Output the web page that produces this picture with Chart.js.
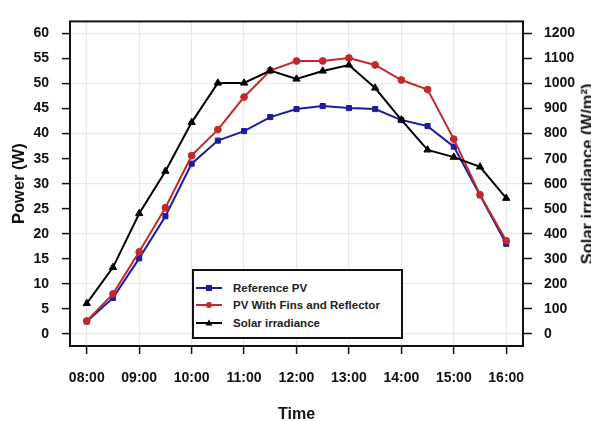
<!DOCTYPE html>
<html>
<head>
<meta charset="utf-8">
<script src="https://cdn.jsdelivr.net/npm/chart.js@4/dist/chart.umd.min.js"></script>
<style>
  html, body { margin: 0; padding: 0; background: #fff; overflow: hidden; }
  #wrap { position: relative; width: 591px; height: 421px; }
  #chart { position: absolute; left: 0; top: 0; }
  .legend {
    position: absolute; left: 192px; top: 269px; width: 211px; height: 70px;
    box-sizing: border-box; border: 2px solid #111; background: #fff;
    padding: 8px 0 0 2px;
    font: 700 11.5px "Liberation Sans", Arial, sans-serif; color: #222;
  }
  .legend .row { height: 17.5px; display: flex; align-items: center; }
  .legend svg { margin-right: 11px; }
  .y2title {
    position: absolute; left: 587px; top: 174px; white-space: nowrap;
    transform: translate(-50%, -50%) rotate(-90deg);
    font: 700 16.5px/1 "Liberation Sans", Arial, sans-serif; color: #111;
  }
</style>
</head>
<body>
<div id="wrap">
  <canvas id="chart" width="591" height="421"></canvas>
  <div class="legend" id="legend"></div>
  <div class="y2title">Solar irradiance (W/m²)</div>
</div>
<script>
// Half-hourly readings
const TIMES = ['08:00', '08:30', '09:00', '09:30', '10:00', '10:30', '11:00', '11:30', '12:00',
               '12:30', '13:00', '13:30', '14:00', '14:30', '15:00', '15:30', '16:00'];
const REFERENCE_PV = [2.5, 7.2, 15.1, 23.5, 34.0, 38.6, 40.5, 43.3, 44.9,
                      45.5, 45.1, 44.9, 42.7, 41.5, 37.4, 27.7, 18.0];
const FINS_REFLECTOR_PV = [2.6, 8.0, 16.4, 25.2, 35.6, 40.8, 47.3, 52.6, 54.5,
                           54.5, 55.1, 53.7, 50.7, 48.8, 38.9, 27.8, 18.6];
const IRRADIANCE = [122, 266, 481, 650, 845, 1002, 1002, 1052, 1018,
                    1050, 1074, 982, 855, 735, 706, 667, 542];

// Axis ticks
const HOUR_TICKS = ['08:00', '09:00', '10:00', '11:00', '12:00', '13:00', '14:00', '15:00', '16:00'];
const POWER_TICKS = [0, 5, 10, 15, 20, 25, 30, 35, 40, 45, 50, 55, 60];
const IRRADIANCE_TICKS = [0, 100, 200, 300, 400, 500, 600, 700, 800, 900, 1000, 1100, 1200];

const toHours = (t) => {
    const [h, m] = t.split(':').map(Number);
    return h + m / 60;
};
const fmtHour = (v) => String(Math.floor(v)).padStart(2, '0') + ':' + String(Math.round((v % 1) * 60)).padStart(2, '0');

const FONT = "'Liberation Sans', Arial, sans-serif";
const BLUE = '#1c1c9c';
const RED = '#c0292d';
const BLACK = '#000000';

const series = [
    { label: 'Reference PV', data: REFERENCE_PV, color: BLUE, style: 'rect', radius: 3.6, axis: 'y', order: 3 },
    { label: 'PV With Fins and Reflector', data: FINS_REFLECTOR_PV, color: RED, style: 'circle', radius: 3.4, axis: 'y', order: 2 },
    { label: 'Solar irradiance', data: IRRADIANCE, color: BLACK, style: 'triangle', radius: 4.2, axis: 'y2', order: 1 }
];

// Box round the plot area
const frame = {
    id: 'frame',
    afterDatasetsDraw(chart) {
        const { ctx, chartArea: a } = chart;
        ctx.save();
        ctx.strokeStyle = '#111';
        ctx.lineWidth = 2;
        ctx.strokeRect(a.left, a.top, a.right - a.left, a.bottom - a.top);
        ctx.restore();
    }
};

const tickFont = { family: FONT, size: 14, weight: 'bold' };
const titleFont = { family: FONT, size: 16.5, weight: 'bold', lineHeight: 1 };

new Chart(document.getElementById('chart'), {
    type: 'line',
    data: {
        datasets: series.map(s => ({
            label: s.label,
            data: s.data.map((v, i) => ({ x: toHours(TIMES[i]), y: v })),
            borderColor: s.color,
            backgroundColor: s.color,
            pointBackgroundColor: s.color,
            pointBorderColor: s.color,
            pointStyle: s.style,
            pointRadius: s.radius,
            pointBorderWidth: 1,
            borderWidth: 2,
            tension: 0,
            yAxisID: s.axis,
            order: s.order,
            clip: false
        }))
    },
    options: {
        responsive: false,
        animation: false,
        layout: { padding: { top: 13, left: 0, right: 0, bottom: 0 } },
        plugins: { legend: { display: false }, tooltip: { enabled: false } },
        scales: {
            x: {
                type: 'linear',
                min: 7.68,
                max: 16.32,
                afterBuildTicks: (scale) => { scale.ticks = HOUR_TICKS.map(t => ({ value: toHours(t) })); },
                afterFit: (scale) => { scale.height = 75; },
                grid: { color: '#e9e9e9', lineWidth: 1.2, tickColor: '#111', tickWidth: 1.5, tickLength: 8 },
                border: { display: false },
                ticks: { color: '#111', font: tickFont, padding: 16, maxRotation: 0, callback: (v) => fmtHour(v) },
                title: { display: true, text: 'Time', color: '#111', font: { family: FONT, size: 16, weight: 'bold', lineHeight: 0.8 }, padding: { top: 0, bottom: 0 } }
            },
            y: {
                position: 'left',
                min: -2.4,
                max: 62.4,
                afterBuildTicks: (scale) => { scale.ticks = POWER_TICKS.map(v => ({ value: v })); },
                afterFit: (scale) => { scale.width = 70; },
                grid: {
                    color: (c) => (c.tick && c.tick.value % 10 === 0) ? '#e9e9e9' : 'rgba(0,0,0,0)',
                    lineWidth: 1.2, tickColor: '#111', tickWidth: 1.5, tickLength: 8
                },
                border: { display: false },
                ticks: { color: '#111', font: tickFont, padding: 13, callback: (v) => String(v) },
                title: { display: true, text: 'Power (W)', color: '#111', font: titleFont, padding: { top: 11, bottom: 0 } }
            },
            y2: {
                position: 'right',
                min: -48,
                max: 1248,
                afterBuildTicks: (scale) => { scale.ticks = IRRADIANCE_TICKS.map(v => ({ value: v })); },
                afterFit: (scale) => { scale.width = 68; },
                grid: { drawOnChartArea: false, tickColor: '#111', tickWidth: 1.5, tickLength: 9 },
                border: { display: false },
                ticks: { color: '#111', font: tickFont, padding: 12, callback: (v) => String(v) }
            }
        }
    },
    plugins: [frame]
});

// Legend inside the plot, built from the series list
const marker = (s) => {
    if (s.style === 'rect') return `<rect x="10" y="2" width="6" height="6" fill="${s.color}"/>`;
    if (s.style === 'circle') return `<circle cx="13" cy="5" r="3" fill="${s.color}"/>`;
    return `<polygon points="13,1.5 16.5,7.5 9.5,7.5" fill="${s.color}"/>`;
};
document.getElementById('legend').innerHTML = series.map(s => `
    <div class="row">
        <svg width="26" height="10"><line x1="0" y1="5" x2="26" y2="5" stroke="${s.color}" stroke-width="2"/>${marker(s)}</svg>
        <span>${s.label}</span>
    </div>`).join('');
</script>
</body>
</html>
